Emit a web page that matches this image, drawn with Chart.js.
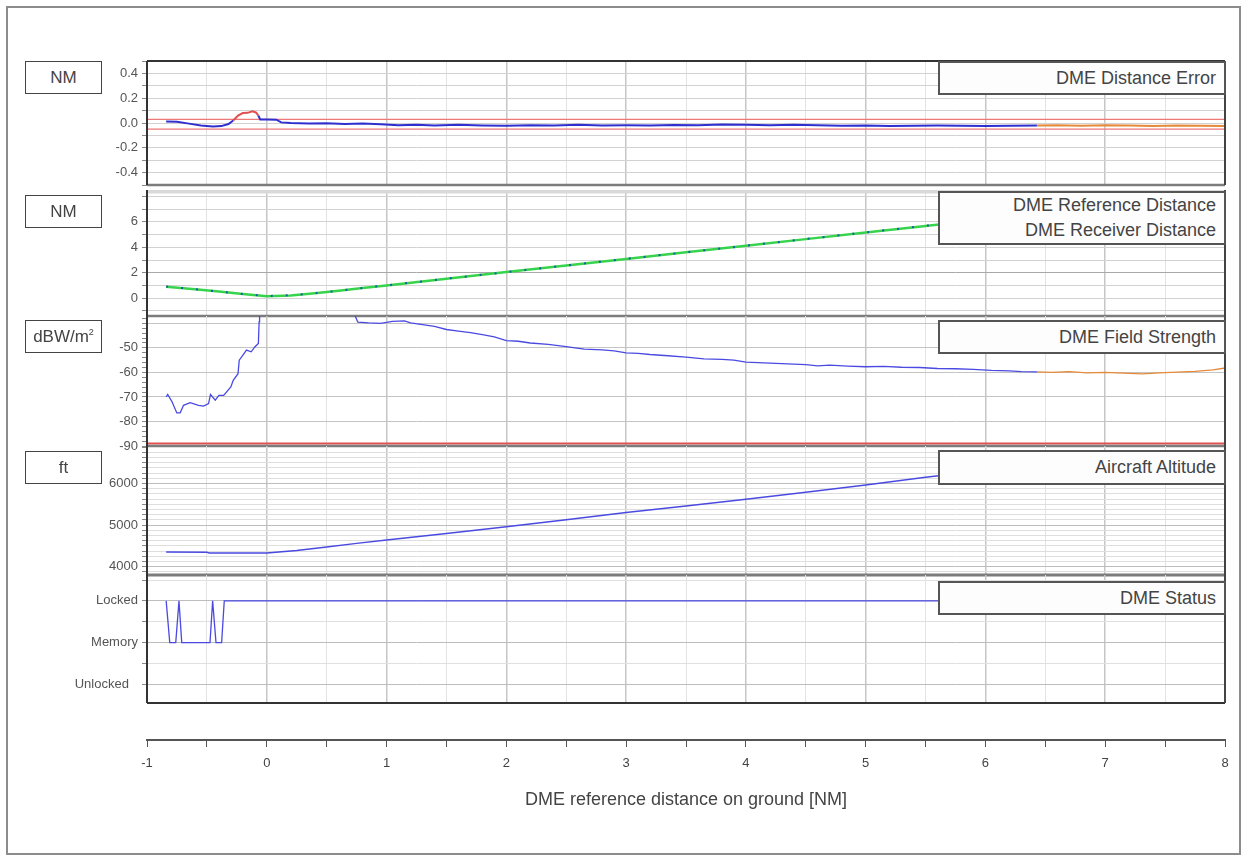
<!DOCTYPE html>
<html>
<head>
<meta charset="utf-8">
<title>DME flight inspection</title>
<script src="https://cdn.jsdelivr.net/npm/chart.js@4.4.1/dist/chart.umd.min.js"></script>
<style>
  html, body { margin: 0; padding: 0; background: #fff; }
  body { width: 1246px; height: 861px; position: relative; overflow: hidden;
         font-family: "Liberation Sans", Arial, sans-serif; }
  #frame { position: absolute; left: 6px; top: 6px; width: 1231px; height: 845px;
           border: 2px solid #8c8c8c; }
  canvas { position: absolute; }
  .unit { position: absolute; left: 25px; width: 75px; height: 31px; box-sizing: content-box;
          border: 1.5px solid #444; background: #fff; color: #444; font-size: 17px;
          line-height: 31px; text-align: center; z-index: 5; }
  .unit sup { font-size: 9px; vertical-align: 7px; line-height: 0; }
  .title { position: absolute; left: 938px; width: 276px; padding-right: 8px;
           border: 2px solid #555; background: #fdfdfd; color: #444; font-size: 18px;
           text-align: right; z-index: 5; box-sizing: content-box; }
</style>
</head>
<body>
<div id="frame"></div>

<div class="unit" style="top:61px">NM</div>
<div class="unit" style="top:195px">NM</div>
<div class="unit" style="top:320px">dBW/m<sup>2</sup></div>
<div class="unit" style="top:451px">ft</div>

<div class="title" style="top:61px;height:30px;line-height:30px">DME Distance Error</div>
<div class="title" style="top:191px;height:50px;line-height:25px">DME Reference Distance<br>DME Receiver Distance</div>
<div class="title" style="top:320px;height:30px;line-height:30px">DME Field Strength</div>
<div class="title" style="top:450px;height:31px;line-height:31px">Aircraft Altitude</div>
<div class="title" style="top:581px;height:30px;line-height:30px">DME Status</div>

<script>
// ---------------------------------------------------------------------------
// Flight data, x = DME reference distance on ground [NM]
// ---------------------------------------------------------------------------

// DME distance error [NM]
const distanceError = [
  [-0.84, 0.012], [-0.75, 0.010], [-0.65, -0.005], [-0.55, -0.020], [-0.45, -0.028],
  [-0.38, -0.025], [-0.32, -0.008], [-0.28, 0.020], [-0.24, 0.060], [-0.20, 0.080],
  [-0.16, 0.082], [-0.12, 0.095], [-0.09, 0.085], [-0.07, 0.060], [-0.055, 0.028],
  [0.00, 0.028], [0.08, 0.027], [0.12, 0.005], [0.20, 0.000], [0.35, -0.005],
  [0.50, -0.002], [0.65, -0.008], [0.80, -0.005], [0.95, -0.010], [1.10, -0.018],
  [1.25, -0.015], [1.40, -0.020], [1.60, -0.015], [1.80, -0.020], [2.00, -0.022],
  [2.20, -0.018], [2.40, -0.020], [2.60, -0.015], [2.80, -0.020], [3.00, -0.018],
  [3.20, -0.020], [3.40, -0.016], [3.60, -0.018], [3.80, -0.012], [4.00, -0.015],
  [4.20, -0.018], [4.40, -0.015], [4.60, -0.018], [4.80, -0.022], [5.00, -0.020],
  [5.20, -0.025], [5.40, -0.022], [5.60, -0.020], [5.80, -0.022], [6.00, -0.025],
  [6.20, -0.022], [6.43, -0.020], [6.60, -0.018], [6.80, -0.022], [7.00, -0.018],
  [7.20, -0.020], [7.40, -0.025], [7.60, -0.020], [7.80, -0.022], [8.00, -0.025]
];
const errorTolerance = [0.03, -0.05];      // upper / lower limit lines
const errorFlagged = [-0.31, -0.06];       // out-of-tolerance stretch, drawn red
const extrapolatedFrom = 6.43;             // beyond this the trace is drawn orange

// DME reference distance and receiver distance [NM]
const referenceDistance = [
  [-0.84, 0.90], [-0.60, 0.70], [-0.40, 0.52], [-0.20, 0.32], [0.00, 0.16],
  [0.20, 0.22], [0.40, 0.38], [0.60, 0.58], [0.80, 0.80], [1.00, 1.00],
  [1.50, 1.52], [2.00, 2.05], [2.50, 2.57], [3.00, 3.08], [3.50, 3.60],
  [4.00, 4.12], [4.50, 4.64], [5.00, 5.16], [5.50, 5.68], [6.00, 6.20],
  [6.50, 6.72], [7.00, 7.24], [7.50, 7.76], [8.00, 8.28]
];
const receiverDistance = [
  [-0.84, 0.91], [-0.60, 0.71], [-0.40, 0.52], [-0.20, 0.33], [0.00, 0.17],
  [0.20, 0.23], [0.40, 0.39], [0.60, 0.58], [0.80, 0.81], [1.00, 1.01],
  [1.50, 1.53], [2.00, 2.05], [2.50, 2.57], [3.00, 3.09], [3.50, 3.61],
  [4.00, 4.12], [4.50, 4.65], [5.00, 5.17], [5.50, 5.69], [6.00, 6.21],
  [6.50, 6.73], [7.00, 7.25], [7.50, 7.77], [8.00, 8.29]
];

// DME field strength [dBW/m²]; null marks the stretch above the scale
const fieldStrength = [
  [-0.84, -70.0], [-0.827, -69.0], [-0.793, -71.8], [-0.751, -76.5], [-0.723, -76.5],
  [-0.695, -73.4], [-0.64, -72.3], [-0.57, -73.4], [-0.527, -73.7], [-0.486, -72.7],
  [-0.47, -69.0], [-0.43, -71.3], [-0.40, -69.4], [-0.36, -69.4], [-0.30, -65.9],
  [-0.28, -63.2], [-0.24, -60.5], [-0.23, -55.0], [-0.19, -52.3], [-0.17, -50.9],
  [-0.13, -51.6], [-0.10, -49.6], [-0.07, -48.2], [-0.064, -39.4], [-0.06, -33.0],
  [0.30, null],
  [0.72, -35.0], [0.76, -39.5], [0.85, -39.8], [0.95, -40.0], [1.05, -39.2],
  [1.15, -39.0], [1.20, -39.8], [1.30, -40.5], [1.40, -41.2], [1.50, -42.5],
  [1.60, -43.2], [1.70, -43.8], [1.80, -44.6], [1.90, -45.5], [2.00, -47.0],
  [2.10, -47.3], [2.20, -48.0], [2.35, -48.6], [2.50, -49.5], [2.65, -50.5],
  [2.80, -50.8], [2.90, -51.2], [3.00, -52.0], [3.10, -52.2], [3.20, -52.7],
  [3.35, -53.2], [3.50, -53.8], [3.65, -54.5], [3.80, -54.7], [3.90, -55.0],
  [4.00, -55.8], [4.10, -56.0], [4.20, -56.2], [4.35, -56.5], [4.50, -56.8],
  [4.60, -57.3], [4.70, -57.0], [4.85, -57.4], [5.00, -57.7], [5.15, -57.5],
  [5.30, -57.9], [5.45, -58.0], [5.60, -58.4], [5.75, -58.5], [5.90, -58.8],
  [6.05, -59.2], [6.20, -59.4], [6.30, -59.7], [6.43, -59.8], [6.55, -60.0],
  [6.70, -59.7], [6.85, -60.2], [7.00, -60.0], [7.15, -60.3], [7.31, -60.6],
  [7.45, -60.2], [7.60, -59.9], [7.75, -59.6], [7.90, -59.0], [8.00, -58.2]
];
const fieldStrengthLimit = -89;

// Aircraft altitude [ft]
const altitude = [
  [-0.84, 4350], [-0.50, 4345], [-0.48, 4330], [0.00, 4330], [0.25, 4390],
  [0.50, 4470], [0.75, 4560], [1.00, 4640], [1.50, 4800], [2.00, 4960],
  [2.50, 5130], [3.00, 5300], [3.50, 5460], [4.00, 5620], [4.50, 5790],
  [5.00, 5960], [5.50, 6150], [6.00, 6320], [6.43, 6470]
];

// DME receiver status: 0 = Unlocked, 1 = Memory, 2 = Locked
const statusNames = ['Unlocked', 'Memory', 'Locked'];
const status = [
  [-0.84, 2], [-0.81, 1], [-0.76, 1], [-0.733, 2], [-0.71, 1], [-0.474, 1],
  [-0.452, 2], [-0.424, 1], [-0.377, 1], [-0.355, 2], [8.00, 2]
];

// ---------------------------------------------------------------------------
// Layout and styling
// ---------------------------------------------------------------------------
const FONT = '"Liberation Sans", Arial, sans-serif';
const X_MIN = -1, X_MAX = 8;
const CANVAS_LEFT = 40, CANVAS_W = 1195, Y_AXIS_W = 107, RIGHT_PAD = 10, PAD = 12;
const BLUE = '#2f2fd0', BLUE_LIGHT = '#4a4ae2', ORANGE = '#e58a3a', RED = '#e05050', GREEN = '#36d44c';

const toXY = pairs => pairs.map(([x, y]) => ({ x, y }));
function range(a, b, step) {
  const out = [];
  for (let i = 0; a + i * step <= b + 1e-9; i++) out.push(+(a + i * step).toFixed(6));
  return out;
}
const hline = (y, color, width) => ({
  data: [{ x: X_MIN, y }, { x: X_MAX, y }], borderColor: color, borderWidth: width,
  pointRadius: 0, order: 5
});

// Solid frame round each panel plus the separator under it
const panelFrame = {
  id: 'panelFrame',
  beforeDatasetsDraw(chart, args, o) {
    const { ctx, chartArea: a } = chart;
    if (o.band) {
      ctx.save();
      ctx.fillStyle = o.band;
      ctx.fillRect(a.left, a.top, a.right - a.left, o.bandHeight);
      ctx.restore();
    }
  },
  afterDatasetsDraw(chart, args, o) {
    const { ctx, chartArea: a } = chart;
    const seg = (x1, y1, x2, y2, c, w) => {
      ctx.beginPath(); ctx.strokeStyle = c; ctx.lineWidth = w;
      ctx.moveTo(x1, y1); ctx.lineTo(x2, y2); ctx.stroke();
    };
    ctx.save();
    if (o.top) seg(a.left, a.top, a.right, a.top, o.top, 2);
    if (o.bottom) seg(a.left, a.bottom, a.right, a.bottom, o.bottom, o.bottomWidth || 2);
    seg(a.left, a.top, a.left, a.bottom, '#333', 2);
    seg(a.right, a.top, a.right, a.bottom, '#444', 2);
    ctx.restore();
  }
};

const xGrid = {
  type: 'linear', min: X_MIN, max: X_MAX,
  afterBuildTicks: s => { s.ticks = range(X_MIN, X_MAX, 0.5).map(value => ({ value })); },
  afterFit: s => { s.height = 0; s.paddingLeft = 0; s.paddingRight = 0; },
  border: { display: false },
  ticks: { display: false },
  grid: {
    drawTicks: false,
    color: c => Number.isInteger(c.tick.value) ? '#c6c6c6' : '#e3e3e3',
    lineWidth: c => Number.isInteger(c.tick.value) ? 1.5 : 1
  }
};

function panel({ top, bottom, min, max, ticks, label, gridColor, datasets, frame }) {
  const cv = document.createElement('canvas');
  cv.width = CANVAS_W;
  cv.height = bottom - top + 2 * PAD;
  cv.style.left = CANVAS_LEFT + 'px';
  cv.style.top = (top - PAD) + 'px';
  document.body.appendChild(cv);
  return new Chart(cv, {
    type: 'line',
    data: { datasets },
    options: {
      responsive: false, animation: false, devicePixelRatio: 1,
      layout: { padding: { top: PAD, bottom: PAD, left: 0, right: RIGHT_PAD } },
      plugins: { legend: { display: false }, tooltip: { enabled: false }, panelFrame: frame },
      elements: { point: { radius: 0 }, line: { tension: 0 } },
      scales: {
        x: xGrid,
        y: {
          type: 'linear', min, max,
          afterBuildTicks: s => { s.ticks = ticks.map(value => ({ value })); },
          afterFit: s => { s.width = Y_AXIS_W; s.paddingTop = 0; s.paddingBottom = 0; },
          border: { display: false },
          grid: { color: gridColor, tickColor: '#8a8a8a', tickLength: 5 },
          ticks: { autoSkip: false, padding: 4, color: '#555', font: { family: FONT, size: 13 },
                   callback: label }
        }
      }
    },
    plugins: [panelFrame]
  });
}

// Distance error: blue, red where flagged, orange once extrapolated
panel({
  top: 61, bottom: 185, min: -0.5, max: 0.5,
  ticks: range(-0.5, 0.5, 0.1),
  label: v => (Math.abs(v) < 0.45 && Math.round(Math.abs(v) * 10) % 2 === 0) ? v.toFixed(1) : '',
  gridColor: '#d2d2d2',
  frame: { top: '#333', bottom: '#7c7c7c', bottomWidth: 2.5 },
  datasets: [
    {
      data: toXY(distanceError), borderWidth: 2, borderColor: BLUE, order: 1,
      segment: {
        borderColor: c => {
          const x0 = c.p0.parsed.x, x1 = c.p1.parsed.x;
          if (x0 >= extrapolatedFrom) return ORANGE;
          if (x0 >= errorFlagged[0] && x1 <= errorFlagged[1]) return RED;
          return BLUE;
        }
      }
    },
    hline(errorTolerance[0], '#e77', 1.2),
    hline(errorTolerance[1], '#e77', 1.2)
  ]
});

// Reference distance (green) with receiver distance dashed over it
panel({
  top: 190, bottom: 316, min: -1.4, max: 8.5,
  ticks: range(-1, 8, 1),
  label: v => (v >= 0 && v <= 6 && v % 2 === 0) ? String(v) : '',
  gridColor: c => c.tick.value === 2 ? '#a8a8a8' : '#d2d2d2',
  frame: { band: '#d9d9d9', bandHeight: 3.5, bottom: '#7c7c7c', bottomWidth: 2.5 },
  datasets: [
    { data: toXY(receiverDistance), borderColor: '#1f5aa0', borderWidth: 2,
      borderDash: [2, 13], order: 0 },
    { data: toXY(referenceDistance), borderColor: GREEN, borderWidth: 2.5, order: 1 }
  ]
});

// Field strength with the minimum-level line
panel({
  top: 316, bottom: 446, min: -90, max: -37,
  ticks: range(-90, -38, 2),
  label: v => (v % 10 === 0 && v <= -50) ? String(v) : '',
  gridColor: c => c.tick.value % 10 === 0 ? '#c4c4c4' : 'rgba(0,0,0,0)',
  frame: { bottom: '#7c7c7c', bottomWidth: 2.5 },
  datasets: [
    {
      data: toXY(fieldStrength), borderWidth: 1.3, borderColor: BLUE_LIGHT, spanGaps: false, order: 1,
      segment: { borderColor: c => c.p0.parsed.x >= extrapolatedFrom ? ORANGE : BLUE_LIGHT }
    },
    hline(fieldStrengthLimit, RED, 2)
  ]
});

// Aircraft altitude
panel({
  top: 446, bottom: 575, min: 3800, max: 6900,
  ticks: range(3875, 6875, 125),
  label: v => v % 1000 === 0 ? String(v) : '',
  gridColor: c => c.tick.value % 1000 === 0 ? '#bdbdbd' : '#dedede',
  frame: { bottom: '#7c7c7c', bottomWidth: 3 },
  datasets: [
    { data: toXY(altitude), borderWidth: 1.5, borderColor: BLUE_LIGHT, order: 1 }
  ]
});

// Receiver status
panel({
  top: 575, bottom: 703, min: -0.45, max: 2.62,
  ticks: range(0, 2.5, 0.5),
  label: v => Number.isInteger(v) ? statusNames[v] + (v === 0 ? '\u2002\u2009' : '') : '',
  gridColor: c => Number.isInteger(c.tick.value) ? '#bdbdbd' : '#e0e0e0',
  frame: { bottom: '#333', bottomWidth: 2 },
  datasets: [
    { data: toXY(status), borderWidth: 1.3, borderColor: BLUE_LIGHT, stepped: false, order: 1 }
  ]
});

// Shared distance axis underneath the panels
(function () {
  const cv = document.createElement('canvas');
  cv.width = CANVAS_W; cv.height = 130;
  cv.style.left = CANVAS_LEFT + 'px'; cv.style.top = '700px';
  document.body.appendChild(cv);
  new Chart(cv, {
    type: 'line',
    data: { datasets: [] },
    options: {
      responsive: false, animation: false, devicePixelRatio: 1,
      layout: { padding: { top: 0, bottom: 0, left: 0, right: RIGHT_PAD } },
      plugins: { legend: { display: false }, tooltip: { enabled: false } },
      scales: {
        x: {
          type: 'linear', min: X_MIN, max: X_MAX,
          afterBuildTicks: s => { s.ticks = range(X_MIN, X_MAX, 0.5).map(value => ({ value })); },
          afterFit: s => { s.height = 90; s.paddingLeft = 0; s.paddingRight = 0; },
          border: { display: true, color: '#555', width: 2 },
          grid: { drawOnChartArea: false, drawTicks: true, tickLength: 7, tickColor: '#555' },
          ticks: { autoSkip: false, maxRotation: 0, padding: 9, color: '#444',
                   font: { family: FONT, size: 13 },
                   callback: v => Number.isInteger(v) ? String(v) : '' },
          title: { display: true, text: 'DME reference distance on ground [NM]', color: '#444',
                   font: { family: FONT, size: 18 }, padding: { top: 0, bottom: 19 } }
        },
        y: {
          type: 'linear', min: 0, max: 1,
          afterFit: s => { s.width = Y_AXIS_W; },
          border: { display: false }, grid: { display: false }, ticks: { display: false }
        }
      }
    }
  });
})();
</script>
</body>
</html>
